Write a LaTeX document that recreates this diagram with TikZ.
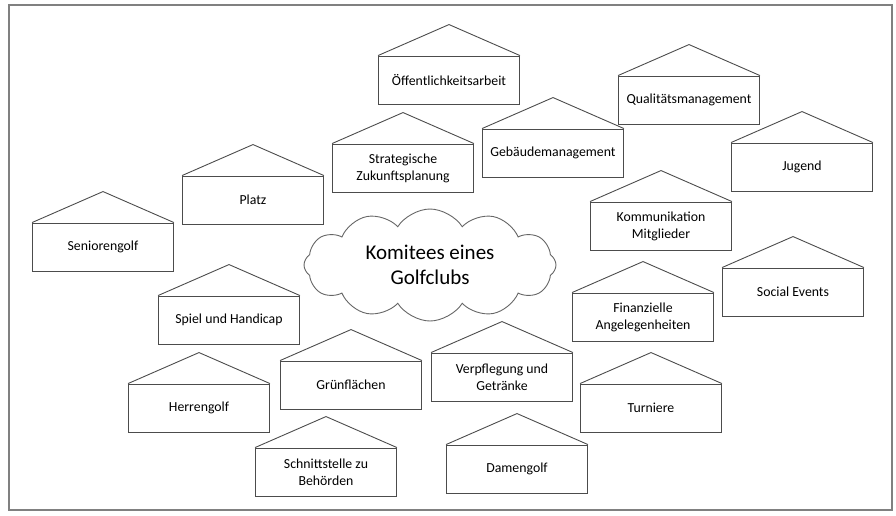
\documentclass[tikz,border=0pt]{standalone}
\usepackage{fontspec}
\setmainfont{Carlito}
\usetikzlibrary{shapes.symbols}

\begin{document}
\begin{tikzpicture}[
  x=1pt, y=-1pt,
  haus/.style  = {rectangle, draw=black!70, line width=0.9pt, fill=white,
                  minimum width=141pt, minimum height=48pt, inner sep=2pt,
                  font=\fontsize{13.8}{17}\selectfont, align=center,
                  text=black},
  dach/.style  = {draw=black!70, line width=0.9pt},
  wolke/.style = {cloud, cloud puffs=12, cloud puff arc=115, aspect=2.2,
                  draw=black!60, line width=0.9pt, fill=white,
                  minimum width=252pt, minimum height=112pt,
                  font=\fontsize{21}{25}\selectfont, align=center}
]
\useasboundingbox (0,0) rectangle (896,515);
\draw[black!50, line width=1.2pt] (9,5) rectangle (892,510);

\node[wolke] (mitte) at (430,265) {Komitees eines\\Golfclubs};

\node[haus] (senioren)  at (103,247)   {Seniorengolf};
\node[haus] (platz)     at (253,200)   {Platz};
\node[haus] (oeffentl)  at (449,80)    {Öffentlichkeitsarbeit};
\node[haus] (strategie) at (403,168)   {Strategische\\Zukunftsplanung};
\node[haus] (gebaeude)  at (553,153)   {Gebäudemanagement};
\node[haus] (qualitaet) at (689,100)   {Qualitätsmanagement};
\node[haus] (jugend)    at (802,167)   {Jugend};
\node[haus] (kommunik)  at (661,226)   {Kommunikation\\Mitglieder};
\node[haus] (social)    at (793,292)   {Social Events};
\node[haus] (finanzen)  at (643,317)   {Finanzielle\\Angelegenheiten};
\node[haus] (turniere)  at (651,408)   {Turniere};
\node[haus] (damen)     at (517,469)   {Damengolf};
\node[haus] (verpfleg)  at (502,377)   {Verpflegung und\\Getränke};
\node[haus] (gruen)     at (351,385)   {Grünflächen};
\node[haus] (behoerden) at (326,472)   {Schnittstelle zu\\Behörden};
\node[haus] (herren)    at (199,408)   {Herrengolf};
\node[haus] (spiel)     at (229,320)   {Spiel und Handicap};

% Dächer
\foreach \n in {senioren, platz, oeffentl, strategie, gebaeude, qualitaet,
                jugend, kommunik, social, finanzen, turniere, damen,
                verpfleg, gruen, behoerden, herren, spiel}
  \draw[dach] (\n.north west) -- ([yshift=31pt]\n.north) -- (\n.north east);

\end{tikzpicture}
\end{document}
